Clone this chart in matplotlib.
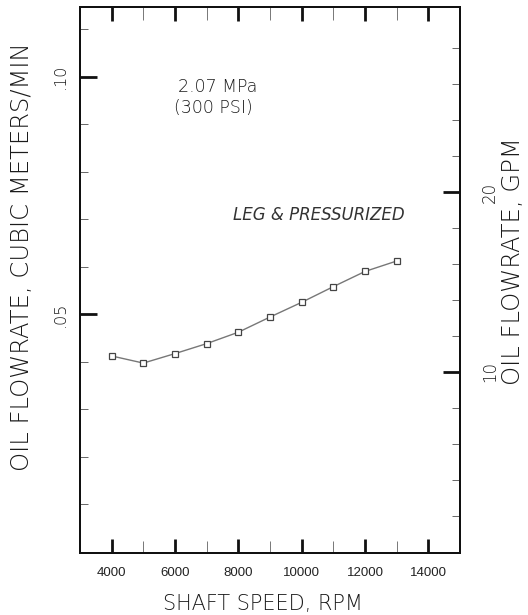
import matplotlib.pyplot as plt
from matplotlib.ticker import FixedLocator, NullFormatter

# data
shaft_speed = [4000, 5000, 6000, 7000, 8000, 9000, 10000, 11000, 12000, 13000]
oil_flow = [0.0412, 0.0397, 0.0417, 0.0438, 0.0462, 0.0494, 0.0525, 0.0558, 0.0590, 0.0612]

x_major = [4000, 6000, 8000, 10000, 12000, 14000]
x_minor = [5000, 7000, 9000, 11000, 13000]
y_major = [0.05, 0.10]
y_major_labels = ['.05', '.10']
y_minor = [0.01, 0.02, 0.03, 0.04, 0.06, 0.07, 0.08, 0.09, 0.11]
gpm_major = [10, 20]
gpm_minor = [2, 4, 6, 8, 12, 14, 16, 18, 22, 24, 26, 28]

M3_PER_GAL = 0.0037854
ylim = (-0.0003, 0.1147)

txt = '#1a1a1a'
thin = dict(fontfamily='DejaVu Sans', fontweight='light', color=txt)

fig = plt.figure(figsize=(5.28, 6.15), dpi=100)
ax = fig.add_axes([80 / 528, 62 / 615, 380 / 528, 546 / 615])

ax.plot(shaft_speed, oil_flow, color='#777777', linewidth=1.0, marker='s',
        markersize=5, markerfacecolor='white', markeredgecolor='#444444',
        markeredgewidth=0.9)

ax.set_xlim(3000, 15000)
ax.set_ylim(*ylim)

for s in ax.spines.values():
    s.set_linewidth(1.4)
    s.set_color('#111111')

ax.xaxis.set_major_locator(FixedLocator(x_major))
ax.xaxis.set_minor_locator(FixedLocator(x_minor))
ax.set_xticklabels([str(v) for v in x_major], fontfamily='Liberation Sans',
                   fontsize=9.5, color='#222222')
ax.tick_params(axis='x', which='major', direction='in', length=10, width=2.0,
               top=True, bottom=True, pad=10, color='#111111')
ax.tick_params(axis='x', which='minor', direction='in', length=9, width=0.7,
               top=True, bottom=True, color='#777777')

ax.yaxis.set_major_locator(FixedLocator(y_major))
ax.yaxis.set_minor_locator(FixedLocator(y_minor))
ax.yaxis.set_minor_formatter(NullFormatter())
ax.set_yticklabels(y_major_labels, fontsize=11.5, rotation=90, va='center',
                   **thin)
ax.tick_params(axis='y', which='major', direction='in', length=12, width=2.0,
               pad=9, color='#111111', right=False)
ax.tick_params(axis='y', which='minor', direction='in', length=6, width=0.7,
               color='#666666', right=False)

# right axis in gallons per minute
ax2 = ax.twinx()
ax2.set_ylim(ylim[0] / M3_PER_GAL, ylim[1] / M3_PER_GAL)
ax2.yaxis.set_major_locator(FixedLocator(gpm_major))
ax2.yaxis.set_minor_locator(FixedLocator(gpm_minor))
ax2.yaxis.set_minor_formatter(NullFormatter())
ax2.set_yticklabels([str(v) for v in gpm_major], fontsize=12, rotation=90,
                    va='center', **thin)
ax2.tick_params(axis='y', which='major', direction='in', length=12, width=2.0,
                pad=15, color='#111111')
ax2.tick_params(axis='y', which='minor', direction='in', length=6, width=0.7,
                color='#666666')
for s in ax2.spines.values():
    s.set_linewidth(1.4)
    s.set_color('#111111')

# annotations
fig.text(218 / 528, 1 - 87 / 615, '2.07 MPa', ha='center', va='center',
         fontsize=12.5, **thin)
fig.text(213 / 528, 1 - 108 / 615, '(300 PSI)', ha='center', va='center',
         fontsize=12.5, **thin)
fig.text(319 / 528, 1 - 215 / 615, 'LEG & PRESSURIZED', ha='center',
         va='center', fontsize=12, style='italic', color='#333333')

# axis titles
fig.text(263 / 528, 1 - 604 / 615, 'SHAFT SPEED, RPM', ha='center',
         va='center', fontsize=15, **thin)
fig.text(22 / 528, 1 - 257 / 615, 'OIL FLOWRATE, CUBIC METERS/MIN',
         ha='center', va='center', rotation=90, fontsize=17.5, **thin)
fig.text(513 / 528, 1 - 261 / 615, 'OIL FLOWRATE, GPM', ha='center',
         va='center', rotation=90, fontsize=17.5, **thin)

fig.savefig('out.png', dpi=100)
